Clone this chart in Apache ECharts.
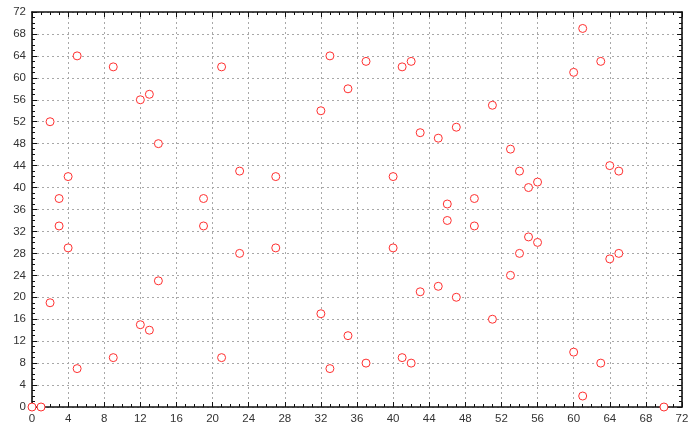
<!DOCTYPE html>
<html>
<head>
<meta charset="utf-8">
<script src="https://cdn.jsdelivr.net/npm/echarts@6/dist/echarts.min.js"></script>
<style>html,body{margin:0;padding:0;background:#fff}#c{width:700px;height:433px}</style>
</head>
<body>
<div id="c"></div>
<script>
var xValues = [0,1,2,2,3,3,4,4,5,5,9,9,12,12,13,13,14,14,19,19,21,21,23,23,27,27,32,32,33,33,35,35,37,37,40,40,41,41,42,42,43,43,45,45,46,46,47,47,49,49,51,51,53,53,54,54,55,55,56,56,60,60,61,61,63,63,64,64,65,65,70];
var yValues = [0,0,52,19,38,33,42,29,64,7,62,9,56,15,57,14,48,23,38,33,62,9,43,28,42,29,54,17,64,7,58,13,63,8,42,29,62,9,63,8,50,21,49,22,37,34,51,20,38,33,55,16,47,24,43,28,40,31,41,30,61,10,69,2,63,8,44,27,43,28,0];
var axisMin = 0, axisMax = 72, axisStep = 4;

var points = xValues.map(function(x, i){ return [x, yValues[i]]; });

function makeAxis(pos, showLabels, showGrid) {
  return {
    type: 'value', position: pos, min: axisMin, max: axisMax, interval: axisStep,
    axisLine: { show: true, onZero: false, lineStyle: { color: '#111', width: 1.6 } },
    axisTick: { show: true, inside: true, length: 5, lineStyle: { color: '#111', width: 1 } },
    minorTick: { show: true, splitNumber: 4, length: 3, lineStyle: { color: '#111', width: 1 } },
    axisLabel: { show: showLabels, color: '#333', fontSize: 11.5, fontFamily: 'Liberation Sans, Arial, sans-serif', margin: 6 },
    splitLine: { show: showGrid, lineStyle: { color: '#a8a8a8', type: [2, 3], width: 1 } },
    minorSplitLine: { show: false }
  };
}

var chart = echarts.init(document.getElementById('c'), null, { renderer: 'canvas' });
chart.setOption({
  animation: false,
  backgroundColor: '#fff',
  grid: { left: 32, right: 18, top: 12, bottom: 26, containLabel: false },
  xAxis: [makeAxis('bottom', true, true), makeAxis('top', false, false)],
  yAxis: [makeAxis('left', true, true), makeAxis('right', false, false)],
  series: [{
    type: 'scatter',
    xAxisIndex: 0, yAxisIndex: 0,
    data: points,
    symbol: 'circle',
    symbolSize: 8,
    itemStyle: { color: '#ffffff', borderColor: '#ff3030', borderWidth: 1, opacity: 1 }
  }]
});
</script>
</body>
</html>
